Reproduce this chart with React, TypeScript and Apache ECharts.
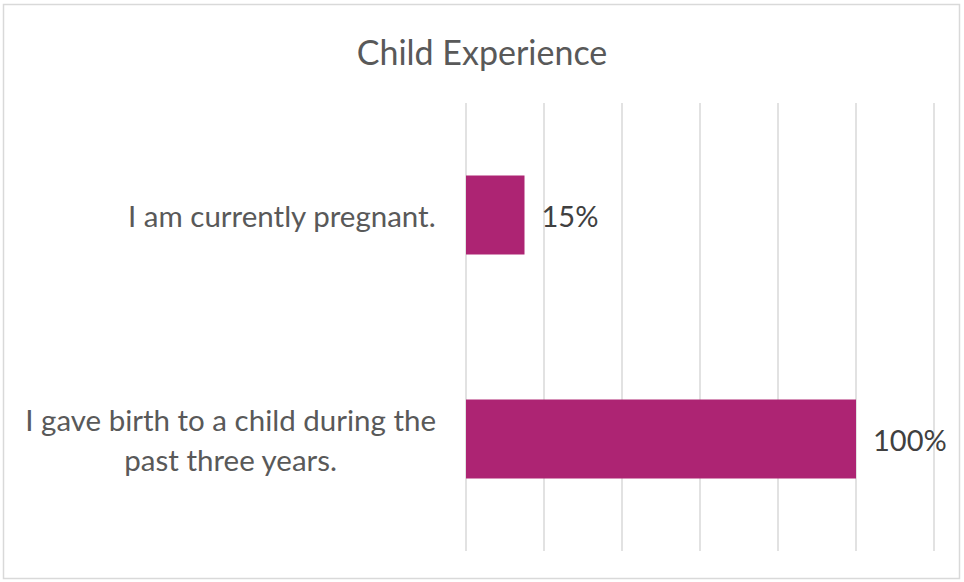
import React, { useEffect, useRef } from "react";
import * as echarts from "echarts";

const categories = [
  "I am currently pregnant.",
  "I gave birth to a child during the\npast three years.",
];
const values = [15, 100];
const axisMax = 120;
const axisInterval = 20;

const FONT = "Lato";
const LABEL_SIZE = 29.5;

function measure(text: string, size: number): number {
  const c = document.createElement("canvas");
  const ctx = c.getContext("2d");
  if (!ctx) return text.length * size * 0.5;
  ctx.font = `${size}px ${FONT}`;
  return Math.max(...text.split("\n").map((l) => ctx.measureText(l).width));
}

export default function App() {
  const ref = useRef<HTMLDivElement>(null);
  useEffect(() => {
    if (!ref.current) return;
    const chart = echarts.init(ref.current, undefined, { renderer: "svg" });
    const widths = categories.map((c) => measure(c, LABEL_SIZE));
    const wMax = Math.max(...widths);
    const gap = 30;
    const margin = gap + wMax / 2;
    const yData = categories.map((c, i) => ({
      value: c,
      textStyle: {
        align: "center",
        fontFamily: FONT,
        fontSize: LABEL_SIZE,
        lineHeight: 40,
        color: "#595959",
        padding: [0, 0, 0, wMax - widths[i]],
      },
    }));
    chart.setOption({
      animation: false,
      backgroundColor: "#ffffff",
      title: {
        text: "Child Experience",
        left: "center",
        top: 29,
        textStyle: {
          fontFamily: FONT,
          fontSize: 34,
          fontWeight: "normal",
          color: "#595959",
        },
      },
      graphic: [
        {
          type: "rect",
          shape: { x: 3.5, y: 4.5, width: 956, height: 574 },
          style: { fill: "none", stroke: "#d9d9d9", lineWidth: 1.5 },
          silent: true,
        },
      ],
      grid: {
        left: 466,
        right: 30,
        top: 103,
        bottom: 31,
        containLabel: false,
        outerBoundsMode: "none",
      },
      xAxis: {
        type: "value",
        min: 0,
        max: axisMax,
        interval: axisInterval,
        axisLabel: { show: false },
        axisLine: { show: false },
        axisTick: { show: false },
        splitLine: { show: true, lineStyle: { color: "#d9d9d9", width: 1.5 } },
      },
      yAxis: {
        type: "category",
        data: yData,
        inverse: true,
        axisLine: { show: false },
        axisTick: { show: false },
        axisLabel: {
          margin: margin,
          align: "center",
          fontFamily: FONT,
          fontSize: LABEL_SIZE,
          lineHeight: 40,
          color: "#595959",
        },
      },
      series: [
        {
          type: "bar",
          data: values,
          barWidth: 79,
          itemStyle: { color: "#ad2473" },
          label: {
            show: true,
            position: "right",
            distance: 17,
            formatter: "{c}%",
            fontFamily: FONT,
            fontSize: 29,
            color: "#404040",
          },
        },
      ],
    });
    return () => chart.dispose();
  }, []);
  return (
    <div
      ref={ref}
      style={{ position: "fixed", left: 0, top: 0, width: 964, height: 582 }}
    />
  );
}
